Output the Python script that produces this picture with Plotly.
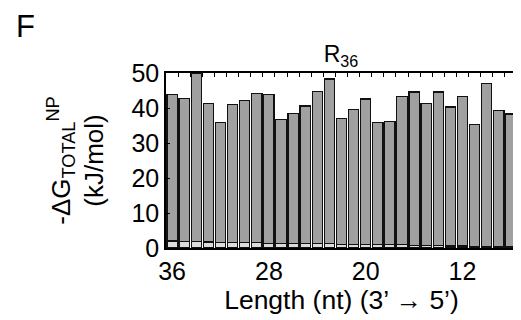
import plotly.graph_objects as go

lengths = list(range(36, 7, -1))
total = [43.8, 42.8, 50.0, 41.4, 35.9, 41.1, 42.2, 44.2, 43.8, 36.7,
         38.4, 40.6, 44.7, 48.3, 36.9, 39.5, 42.6, 35.9, 36.1, 43.4,
         44.6, 41.4, 44.6, 40.3, 43.2, 35.4, 46.9, 39.2, 38.3]
light = [2.0, 1.8, 1.8, 1.7, 1.6, 1.6, 1.5, 1.5, 1.4, 1.4,
         1.3, 1.3, 1.2, 1.2, 1.1, 1.1, 1.0, 1.0, 0.9, 0.9,
         0.8, 0.8, 0.7, 0.6, 0.6, 0.5, 0.4, 0.3, 0.3]
dark = [t - l for t, l in zip(total, light)]
xticks = [36, 28, 20, 12]

FONT = "Arial, Liberation Sans, sans-serif"

fig = go.Figure()
fig.add_trace(go.Bar(x=lengths, y=light, marker=dict(color="#dcdcdc", line=dict(color="#111111", width=1.2)),
                     width=0.85, showlegend=False))
fig.add_trace(go.Bar(x=lengths, y=dark, marker=dict(color="#a0a0a0", line=dict(color="#111111", width=1.2)),
                     width=0.85, showlegend=False))
# invisible trace to activate the top tick axis
fig.add_trace(go.Scatter(x=[lengths[0]], y=[0], xaxis="x2", mode="markers",
                         marker=dict(opacity=0), showlegend=False, hoverinfo="skip"))

fig.update_layout(
    template="none",
    barmode="stack",
    width=521, height=320,
    margin=dict(l=157.5, r=12, t=64.7, b=80.3, autoexpand=False),
    paper_bgcolor="white", plot_bgcolor="white",
    font=dict(family=FONT, color="black"),
    title=dict(text="R<sub>36</sub>", x=0.639, xanchor="center", y=0.856, yanchor="middle",
               font=dict(size=23, family=FONT, color="black")),
    xaxis=dict(range=[36.5, 7.5], tickvals=xticks, ticktext=[str(v) for v in xticks],
               ticks="", showline=True, linecolor="black", linewidth=1.5, mirror=True,
               tickfont=dict(size=25), showgrid=False, zeroline=False, automargin=False,
               title=dict(text="Length (nt) (3’ → 5’)", font=dict(size=26.5), standoff=2)),
    xaxis2=dict(range=[36.5, 7.5], overlaying="x", side="top", showticklabels=False,
                ticks="inside", tickvals=[v + 0.5 for v in lengths[1:]], ticklen=4,
                tickcolor="black", tickwidth=1, showline=False, showgrid=False,
                zeroline=False, automargin=False),
    yaxis=dict(range=[0, 50], tickvals=[0, 10, 20, 30, 40, 50], ticks="inside", ticklen=4,
               tickcolor="black", tickwidth=1, showline=True, linecolor="black", linewidth=1.5,
               mirror="ticks", tickfont=dict(size=25), showgrid=False, zeroline=False, automargin=False,
               title=dict(text="-ΔG<sub>TOTAL</sub><sup>NP</sup><br>(kJ/mol)", font=dict(size=26), standoff=20)),
)
fig.add_annotation(text="F", xref="paper", yref="paper", x=-0.434, y=1.267, xanchor="left", yanchor="middle",
                   showarrow=False, font=dict(size=31, family=FONT, color="black"))
fig.write_html("out.html")
